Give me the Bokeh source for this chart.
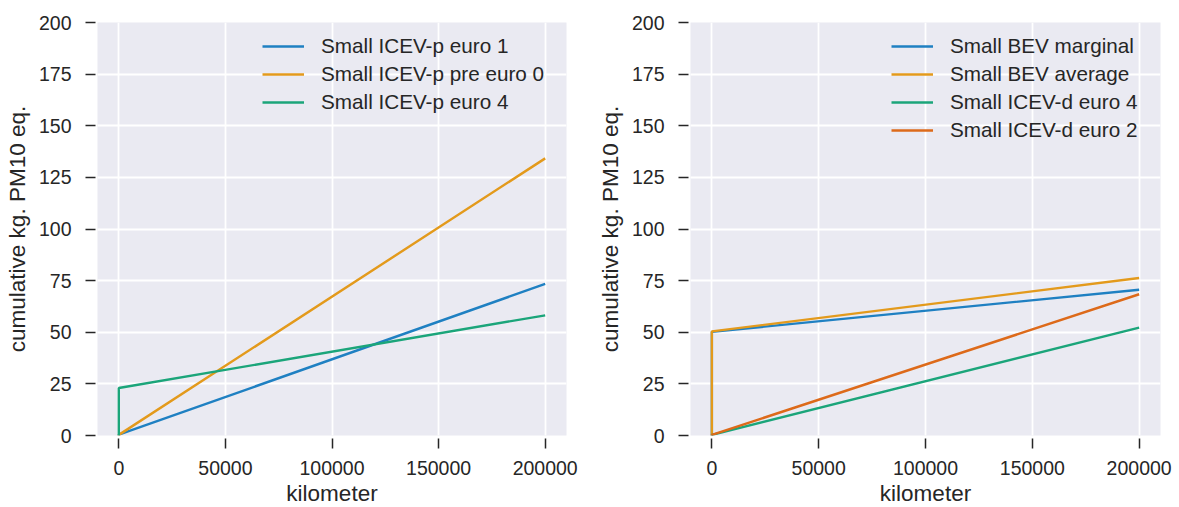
from bokeh.plotting import figure
from bokeh.layouts import row
from bokeh.models import FixedTicker, Range1d, Legend, LegendItem, BasicTickFormatter
from bokeh.embed import file_html
from bokeh.resources import INLINE

# ---- data ----
km = [0, 0, 200000]

left_names = ["Small ICEV-p euro 1", "Small ICEV-p pre euro 0", "Small ICEV-p euro 4"]
icev_p_euro1 = [0, 0.4, 73.4]
icev_p_pre_euro0 = [0, 0.3, 134.2]
icev_p_euro4 = [0, 23.0, 58.2]
left_values = [icev_p_euro1, icev_p_pre_euro0, icev_p_euro4]

right_names = ["Small BEV marginal", "Small BEV average", "Small ICEV-d euro 4", "Small ICEV-d euro 2"]
bev_marginal = [0, 50.2, 70.6]
bev_average = [0, 50.4, 76.3]
icev_d_euro4 = [0, 0.3, 52.2]
icev_d_euro2 = [0, 0.3, 68.4]
right_values = [bev_marginal, bev_average, icev_d_euro4, icev_d_euro2]

x_ticks = [0, 50000, 100000, 150000, 200000]
y_ticks = [0, 25, 50, 75, 100, 125, 150, 175, 200]
x_label = "kilometer"
y_label = "cumulative kg. PM10 eq."

left_colors = ["#1f80c2", "#e39a1c", "#1ba57a"]
right_colors = ["#1f80c2", "#e39a1c", "#1ba57a", "#dd6a1a"]

FONT = "Liberation Sans"
TXT = "#262626"


def make_panel(names, values, colors, bl, br, fw, lw):
    p = figure(output_backend="svg", toolbar_location=None,
               frame_width=fw, frame_height=413,
               min_border_left=bl, min_border_right=br,
               min_border_top=22, min_border_bottom=72,
               x_range=Range1d(-10000, 210000), y_range=Range1d(0, 200))
    p.background_fill_color = "#EAEAF2"
    p.border_fill_color = "white"
    p.outline_line_color = None
    items = []
    for n, v, c in zip(names, values, colors):
        r = p.line(km, v, line_color=c, line_width=2.4)
        items.append(LegendItem(label=n, renderers=[r]))
    leg = Legend(items=items, location="top_right")
    leg.background_fill_alpha = 0
    leg.border_line_color = None
    leg.label_text_font = FONT
    leg.label_text_font_size = "20.7px"
    leg.label_text_color = TXT
    leg.glyph_width = 42
    leg.glyph_height = 24
    leg.label_height = 24
    leg.label_width = lw
    leg.label_standoff = 17
    leg.spacing = 4
    leg.padding = 12
    leg.margin = 12
    p.add_layout(leg)

    for ax in (p.xaxis[0], p.yaxis[0]):
        ax.axis_line_color = None
        ax.major_tick_line_color = TXT
        ax.major_tick_line_width = 1.5
        ax.minor_tick_line_color = None
        ax.major_label_text_font = FONT
        ax.major_label_text_font_size = "19.5px"
        ax.major_label_text_color = TXT
        ax.axis_label_text_font = FONT
        ax.axis_label_text_font_size = "22.5px"
        ax.axis_label_text_font_style = "normal"
        ax.axis_label_text_color = TXT
    p.xaxis.ticker = FixedTicker(ticks=x_ticks)
    p.yaxis.ticker = FixedTicker(ticks=y_ticks)
    p.xaxis.formatter = BasicTickFormatter(use_scientific=False)
    p.xaxis.major_tick_in = -3
    p.xaxis.major_tick_out = 13
    p.xaxis.major_label_standoff = 12
    p.xaxis.axis_label_standoff = 3
    p.yaxis.major_tick_in = -2
    p.yaxis.major_tick_out = 12
    p.yaxis.major_label_standoff = 14
    p.yaxis.axis_label_standoff = 6
    p.xaxis.axis_label = x_label
    p.yaxis.axis_label = y_label

    p.xgrid.ticker = FixedTicker(ticks=x_ticks)
    p.ygrid.ticker = FixedTicker(ticks=y_ticks)
    for g in (p.xgrid[0], p.ygrid[0]):
        g.grid_line_color = "white"
        g.grid_line_width = 1.8
    return p


p1 = make_panel(left_names, left_values, left_colors, 97, 24, 469, 233)
p2 = make_panel(right_names, right_values, right_colors, 100, 19, 470, 198)

layout = row(p1, p2, spacing=0)
open("out.html", "w").write(file_html(layout, INLINE))
